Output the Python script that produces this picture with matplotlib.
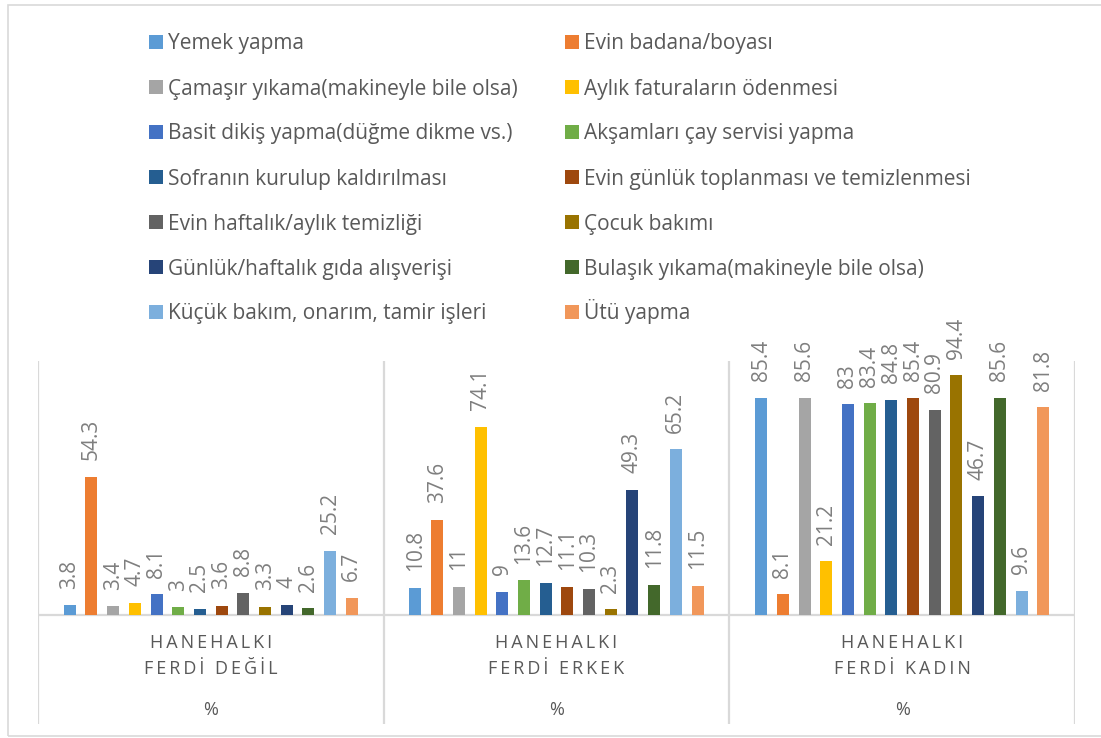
import matplotlib
matplotlib.use('Agg')
from matplotlib import pyplot as plt
from matplotlib.patches import Rectangle
import numpy as np

plt.rcParams['font.family'] = ['Open Sans', 'DejaVu Sans']

groups = [['HANEHALKI', 'FERDİ DEĞİL'], ['HANEHALKI', 'FERDİ ERKEK'], ['HANEHALKI', 'FERDİ KADIN']]
unit = '%'

tasks = ['Yemek yapma', 'Evin badana/boyası',
         'Çamaşır yıkama(makineyle bile olsa)', 'Aylık faturaların ödenmesi',
         'Basit dikiş yapma(düğme dikme vs.)', 'Akşamları çay servisi yapma',
         'Sofranın kurulup kaldırılması', 'Evin günlük toplanması ve temizlenmesi',
         'Evin haftalık/aylık temizliği', 'Çocuk bakımı',
         'Günlük/haftalık gıda alışverişi', 'Bulaşık yıkama(makineyle bile olsa)',
         'Küçük bakım, onarım, tamir işleri', 'Ütü yapma']

degil = [3.8, 54.3, 3.4, 4.7, 8.1, 3, 2.5, 3.6, 8.8, 3.3, 4, 2.6, 25.2, 6.7]
erkek = [10.8, 37.6, 11, 74.1, 9, 13.6, 12.7, 11.1, 10.3, 2.3, 49.3, 11.8, 65.2, 11.5]
kadin = [85.4, 8.1, 85.6, 21.2, 83, 83.4, 84.8, 85.4, 80.9, 94.4, 46.7, 85.6, 9.6, 81.8]

colors = ['#5B9BD5', '#ED7D31', '#A5A5A5', '#FFC000', '#4472C4', '#70AD47', '#255E91',
          '#9E480E', '#636363', '#997300', '#264478', '#43682B', '#7CAFDD', '#F1975A']


def tracked(s):
    # letter-spaced category text
    return '\u2009'.join(s)


W, H = 1101, 738
fig = plt.figure(figsize=(W / 100, H / 100), dpi=100)
# chart border
fig.add_artist(Rectangle((8 / W, 1 - 736 / H), 1.2, (736 - 5) / H, transform=fig.transFigure,
                         fill=False, edgecolor='#d9d9d9', linewidth=1.2))

ax = fig.add_axes([38 / W, 1 - 724 / H, (1075 - 38) / W, (724 - 361) / H])
ax.set_xlim(-0.5, 2.5)
ax.set_ylim(-42.9, 100)
ax.axis('off')

values = np.array([degil, erkek, kadin])
slot = 21.7 / 345.7
width = 12 / 345.7
x = np.arange(len(groups))
for i, task in enumerate(tasks):
    pos = x + (i - 6.5) * slot
    bars = ax.bar(pos, values[:, i], width, color=colors[i], label=task, zorder=3)
    for b, v in zip(bars, values[:, i]):
        ax.annotate('{:g}'.format(v), (b.get_x() + b.get_width() / 2, v), xytext=(0, 12),
                    textcoords='offset points', rotation=90, ha='center', va='bottom',
                    fontsize=15, color='#7F7F7F')

line_color = '#d9d9d9'
ax.axhline(0, color=line_color, linewidth=1.6, zorder=2)
for xv in [-0.5, 0.5, 1.5, 2.5]:
    ax.axvline(xv, color=line_color, linewidth=1.6, zorder=2)

for g, lines in enumerate(groups):
    ax.text(g, -11, tracked(lines[0]), ha='center', va='center', fontsize=13, color='#595959')
    ax.text(g, -21.3, tracked(lines[1]), ha='center', va='center', fontsize=13, color='#595959')
    ax.text(g, -37.4, unit, ha='center', va='center', fontsize=13, color='#595959')

# legend, filled row-wise like Excel does
col_x = [149, 565]
for i, task in enumerate(tasks):
    row, col = i // 2, i % 2
    yc = 42 + 45 * row
    fig.add_artist(Rectangle((col_x[col] / W, 1 - (yc + 7) / H), 14 / W, 14 / H,
                             transform=fig.transFigure, facecolor=colors[i], edgecolor='none'))
    fig.text((col_x[col] + 19) / W, 1 - (yc + 7.5) / H, task, ha='left', va='baseline',
             fontsize=15, color='#595959')

plt.savefig('out.png', dpi=100)
